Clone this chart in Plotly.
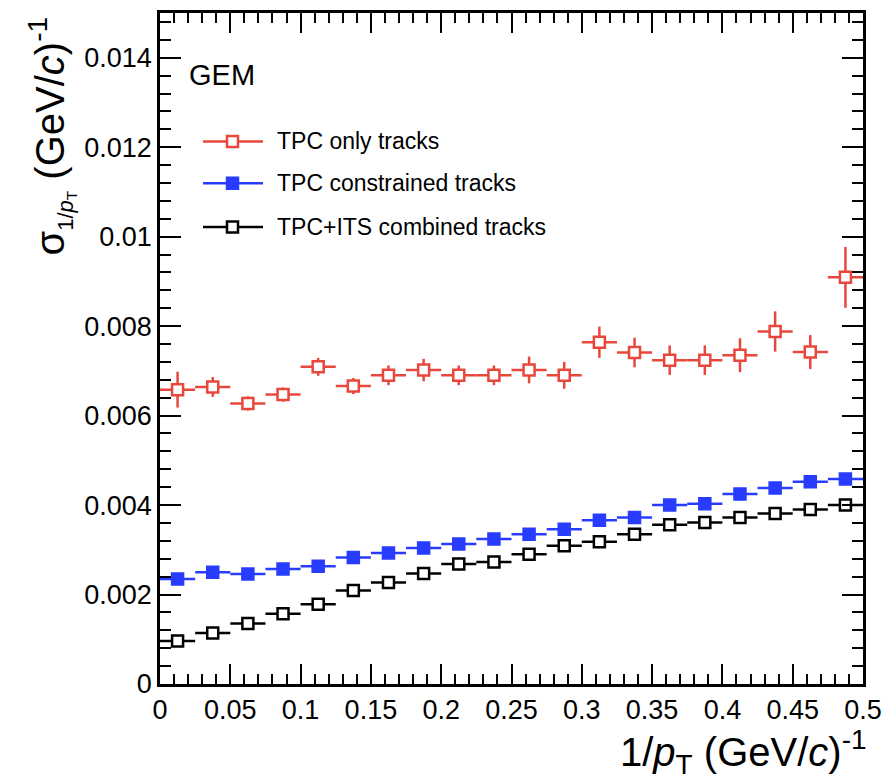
import plotly.graph_objects as go

# ---- data ----
bin_centers = [0.0125 + 0.025 * i for i in range(20)]
bin_half_width = [0.0125] * 20

tpc_only = [0.00658, 0.00664, 0.00627, 0.00647, 0.00709, 0.00666, 0.00690, 0.00702, 0.00690, 0.00690,
            0.00702, 0.00690, 0.00764, 0.00741, 0.00724, 0.00724, 0.00735, 0.00788, 0.00742, 0.00909]
tpc_only_err = [0.00040, 0.00022, 0.00016, 0.00016, 0.00020, 0.00018, 0.00022, 0.00025, 0.00022, 0.00022,
                0.00030, 0.00030, 0.00035, 0.00033, 0.00033, 0.00033, 0.00038, 0.00045, 0.00038, 0.00068]

tpc_constrained = [0.00235, 0.00250, 0.00246, 0.00257, 0.00263, 0.00283, 0.00293, 0.00304, 0.00313, 0.00324,
                   0.00335, 0.00346, 0.00366, 0.00372, 0.00400, 0.00403, 0.00425, 0.00438, 0.00452, 0.00458]

tpc_its = [0.00096, 0.00114, 0.00135, 0.00157, 0.00178, 0.00209, 0.00227, 0.00247, 0.00268, 0.00273,
           0.00290, 0.00309, 0.00318, 0.00335, 0.00356, 0.00361, 0.00372, 0.00381, 0.00390, 0.00400]

labels = ["TPC only tracks", "TPC constrained tracks", "TPC+ITS combined tracks"]
RED = "rgb(232,72,60)"
BLUE = "rgb(40,60,255)"
BLACK = "rgb(0,0,0)"

FONT = "Liberation Sans, Arial, Helvetica, sans-serif"

fig = go.Figure()

def add_series(y, yerr, color, filled):
    fig.add_trace(go.Scatter(
        x=bin_centers, y=y, mode="markers", showlegend=False,
        marker=dict(symbol="square", size=11,
                    color=color if filled else "white",
                    line=dict(color=color, width=2.5)),
        error_x=dict(type="data", array=bin_half_width, symmetric=True,
                     color=color, thickness=2.5, width=0),
        error_y=dict(type="data", array=yerr, symmetric=True,
                     color=color, thickness=2.5, width=0) if yerr else None,
    ))

add_series(tpc_only, tpc_only_err, RED, False)
add_series(tpc_constrained, None, BLUE, True)
add_series(tpc_its, None, BLACK, False)

# page offset: the html body adds an 8px margin around the figure
OFF = 8
W, H = 890 - OFF, 782 - OFF
# plot-area geometry in page pixels (for paper-coordinate conversions)
L, R, T, B = 160, 863, 10, 684
def px(xp):
    return (xp - L) / (R - L)
def py(yp):
    return (B - yp) / (B - T)

shapes = []
annotations = []
legend_rows = [(labels[0], RED, False, 139), (labels[1], BLUE, True, 181), (labels[2], BLACK, False, 225)]
for text, color, filled, yc in legend_rows:
    shapes.append(dict(type="line", xref="paper", yref="paper",
                       x0=px(203), x1=px(263), y0=py(yc), y1=py(yc),
                       line=dict(color=color, width=2.5)))
    shapes.append(dict(type="rect", xref="paper", yref="paper",
                       x0=px(227), x1=px(238), y0=py(yc + 5.5), y1=py(yc - 5.5),
                       fillcolor=color if filled else "white",
                       line=dict(color=color, width=2.5)))
    annotations.append(dict(text=text, xref="paper", yref="paper", x=px(275), y=py(yc),
                            xanchor="left", yanchor="middle", showarrow=False,
                            font=dict(family=FONT, size=23, color="black")))

annotations.append(dict(text="GEM", xref="paper", yref="paper", x=px(187), y=py(72),
                        xanchor="left", yanchor="middle", showarrow=False,
                        font=dict(family=FONT, size=29, color="black")))

annotations.append(dict(text="1/<i>p</i><sub>T</sub> (GeV/<i>c</i>)<sup>-1</sup>",
                        xref="paper", yref="paper", x=px(869), y=py(752),
                        xanchor="right", yanchor="middle", showarrow=False,
                        font=dict(family=FONT, size=40, color="black")))

annotations.append(dict(
    text="σ<sub><span style=\"font-size:22px\">1/<i>p</i><sub>T</sub></span></sub> (GeV/<i>c</i>)<sup>-1</sup>",
    xref="paper", yref="paper", x=px(52), y=py(12),
    xanchor="center", yanchor="top", textangle=-90, showarrow=False,
    font=dict(family=FONT, size=40, color="black")))

axis_common = dict(showline=True, linecolor="black", linewidth=2.5, mirror="allticks",
                   ticks="inside", tickcolor="black", tickwidth=2,
                   showgrid=False, zeroline=False,
                   tickfont=dict(family=FONT, size=27, color="black"))

fig.update_xaxes(range=[0, 0.5], dtick=0.05, tick0=0, ticklen=20,
                 minor=dict(dtick=0.01, ticks="inside", ticklen=10, tickcolor="black", tickwidth=2, showgrid=False),
                 **axis_common)
fig.update_yaxes(range=[0, 0.015], dtick=0.002, tick0=0, ticklen=21,
                 minor=dict(dtick=0.0004, ticks="inside", ticklen=11, tickcolor="black", tickwidth=2, showgrid=False),
                 **axis_common)

fig.update_layout(width=W, height=H,
                  margin=dict(l=L - OFF, r=W - (R - OFF), t=T - OFF, b=H - (B - OFF)),
                  plot_bgcolor="white", paper_bgcolor="white",
                  shapes=shapes, annotations=annotations, showlegend=False)

fig.write_html("out.html")
